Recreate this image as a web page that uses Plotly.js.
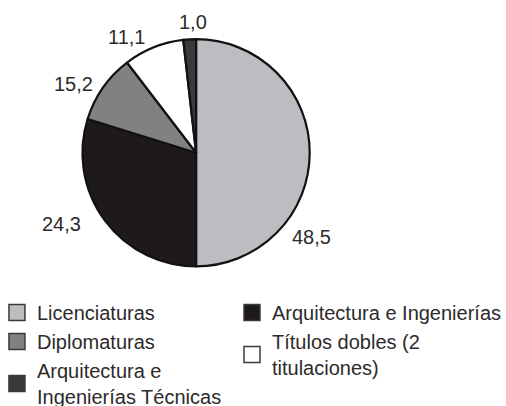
<!DOCTYPE html>
<html>
<head>
<meta charset="utf-8">
<script src="https://cdn.plot.ly/plotly-3.0.1.min.js"></script>
<style>html,body{margin:0;padding:0;background:#fff;}</style>
</head>
<body>
<div id="chart" style="width:506px;height:406px;"></div>
<script>
// Slice data (clockwise from 12 o'clock)
const categories = ["Licenciaturas", "Arquitectura e Ingenierías", "Diplomaturas", "Títulos dobles (2<br>titulaciones)", "Arquitectura e<br>Ingenierías Técnicas"];
// Values printed on the chart
const printedValues = [48.5, 24.3, 15.2, 11.1, 1.0];
// Slice sizes as they are drawn in the picture (% of the circle)
const drawnShares = [50.0, 29.8, 9.8, 8.6, 1.8];
const colors = ["#bcbdc0", "#1e1a1b", "#808183", "#ffffff", "#3b3a3b"];
// Legend columns (index into categories)
const legendCol1 = [0, 2, 4];
const legendCol2 = [1, 3];
// Value labels
const labelText = printedValues.map(v => v.toFixed(1).replace('.', ','));
const labelPos = [[0.6156, 0.4163], [0.1215, 0.4483], [0.1443, 0.7931], [0.25, 0.910], [0.3814, 0.947]];

const txtColor = "#2e2a2b";
const fontFam = "Liberation Sans, Arial, sans-serif";

const pie = {
  type: "pie",
  labels: categories,
  values: drawnShares,
  customdata: printedValues,
  sort: false,
  direction: "clockwise",
  rotation: 0,
  textinfo: "none",
  hovertemplate: "%{label}: %{customdata}<extra></extra>",
  showlegend: false,
  marker: {colors: colors, line: {color: "#111", width: 2.2}},
  domain: {x: [0.163, 0.612], y: [0.3436, 0.904]}
};

function legendTrace(i, legendId) {
  return {
    type: "scatter", mode: "markers", x: [null], y: [null],
    name: categories[i], legend: legendId, legendgroup: "g" + i,
    marker: {symbol: "square", size: 16, color: colors[i], line: {color: "#3a3a3a", width: 1.5}},
    hoverinfo: "skip"
  };
}
const traces = [pie]
  .concat(legendCol1.map(i => legendTrace(i, "legend")))
  .concat(legendCol2.map(i => legendTrace(i, "legend2")));

const annotations = labelText.map((t, i) => ({
  text: t, x: labelPos[i][0], y: labelPos[i][1], xref: "paper", yref: "paper",
  xanchor: "center", yanchor: "middle",
  showarrow: false, font: {size: 20, color: txtColor, family: fontFam}
}));

const legendFont = {size: 20, color: txtColor, family: fontFam};
const layout = {
  width: 506, height: 406,
  margin: {l: 0, r: 0, t: 0, b: 0, autoexpand: false},
  paper_bgcolor: "#fff",
  plot_bgcolor: "#fff",
  showlegend: true,
  xaxis: {visible: false},
  yaxis: {visible: false},
  legend: {
    orientation: "v", x: -0.006, y: 0.2785, xanchor: "left", yanchor: "top",
    font: legendFont, traceorder: "grouped", tracegroupgap: 0, bgcolor: "rgba(0,0,0,0)"
  },
  legend2: {
    orientation: "v", x: 0.4585, y: 0.2785, xanchor: "left", yanchor: "top",
    font: legendFont, traceorder: "grouped", tracegroupgap: 0, bgcolor: "rgba(0,0,0,0)"
  },
  annotations: annotations
};

Plotly.newPlot("chart", traces, layout, {displayModeBar: false, staticPlot: true});
</script>
</body>
</html>
